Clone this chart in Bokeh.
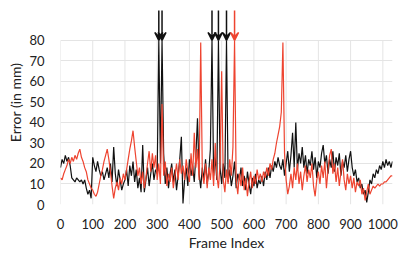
from bokeh.plotting import figure
from bokeh.models import Range1d, FixedTicker, Arrow, VeeHead
from bokeh.embed import file_html
from bokeh.resources import INLINE

# ---- data (frame index, error in mm); values > 80 are off-chart spikes ----
frames = list(range(0, 1031, 5))

black = [18, 22, 20, 24, 21, 23, 19,
         13, 12, 11, 13, 12, 11, 12, 10, 12,
         8, 5, 7, 3,
         23, 19, 16, 21, 17, 14, 16, 12, 15,
         18, 13, 20, 11, 28,
         15, 9, 17, 12, 7, 10,
         12, 17, 9, 19, 14, 21, 11, 17, 8, 13, 6,
         29, 6, 12, 18, 9, 15, 20, 12, 17, 15,
         100, 20, 100, 25,
         10, 18, 8, 15, 20, 11, 17, 7, 14, 22,
         33, 0.5, 12, 18, 9, 22, 14, 19, 11, 24, 42, 15, 8, 18, 12, 22, 10, 16, 27,
         100, 14, 23, 12, 100, 18, 10, 20, 13, 100, 11, 17, 9, 14, 21, 8, 15, 12, 18,
         9, 14, 7, 16, 10, 5, 13, 9, 15, 8, 12, 10, 14, 9, 16, 12, 18, 13, 19, 16,
         21, 18, 23, 19, 17, 22, 14, 20, 26, 16, 24, 35, 18, 40, 17, 25, 20, 28, 18,
         24, 15, 22, 19, 26, 17, 23, 13, 21, 18, 25, 29, 20, 24, 15, 22, 18, 26, 16,
         23, 19, 25, 14, 21, 18, 24, 16, 22, 26, 18, 14, 17, 11, 13, 8, 10, 5, 7, 1,
         6, 12, 10, 15, 13, 17, 15, 19, 17, 21, 18, 22, 19, 21, 18, 21]

red = [13, 12, 15, 17, 19, 22, 20, 23, 21, 24, 22, 25, 27, 23, 21, 18, 16, 12,
       10, 8, 7, 5, 4, 6, 10, 14, 17, 21, 24, 27, 22, 16, 9, 3, 8, 11, 7, 13,
       10, 15, 12, 17, 22, 27, 31, 36, 28, 21, 14, 18, 10, 16, 8, 13, 20, 26,
       16, 25, 18, 24, 12, 20, 10, 49, 14, 21, 9, 15, 11, 18, 8, 14, 20, 12,
       22, 15, 19, 12, 22, 16, 11, 25, 14, 35, 18, 27, 12, 79, 15, 10, 20, 8,
       18, 12, 22, 9, 30, 14, 8, 20, 65, 12, 6, 17, 10, 22, 14, 28, 100, 12,
       5, 15, 9, 18, 7, 13, 4, 11, 16, 8, 14, 10, 17, 12, 15, 11, 16, 13, 18,
       14, 20, 17, 22, 25, 30, 34, 38, 45, 79, 25, 12, 5, 9, 15, 8, 18, 12,
       20, 10, 16, 7, 14, 19, 11, 17, 13, 20, 9, 4, 12, 16, 10, 19, 13, 21,
       8, 17, 24, 27, 15, 20, 11, 18, 9, 16, 22, 12, 7, 15, 10, 14, 8, 13, 6,
       11, 9, 12, 5, 8, 2, 6, 10, 5, 7, 9, 8, 9, 10, 9, 10, 10, 11, 11, 12,
       13, 14, 14]

x_ticks = list(range(0, 1001, 100))
y_ticks = list(range(0, 81, 10))
y_max = 80

BLACK = "#111111"
RED = "#ee4430"
TEXT = "#222222"
GRID = "#e4e4e4"

p = figure(width=399, height=260, output_backend="svg", toolbar_location=None,
           x_range=Range1d(0, 1030), y_range=Range1d(0, 99.5),
           min_border_left=60, min_border_right=7, min_border_top=0,
           min_border_bottom=56)
p.outline_line_color = None
p.background_fill_color = "white"
p.border_fill_color = "white"

# grid: horizontal lines over the full width, vertical ones only up to 80
p.xgrid.visible = False
p.ygrid.ticker = FixedTicker(ticks=y_ticks)
p.ygrid.grid_line_color = GRID
p.segment(x0=x_ticks, y0=[0] * len(x_ticks), x1=x_ticks, y1=[y_max] * len(x_ticks),
          line_color=GRID, line_width=1)

def clip(vals):
    return [min(v, y_max) for v in vals]

p.line(frames, clip(black), line_color=BLACK, line_width=1.2)
p.line(frames, clip(red), line_color=RED, line_width=1.2)

# arrows marking off-chart spikes
for vals, col in ((black, BLACK), (red, RED)):
    for f, v in zip(frames, vals):
        if v > y_max:
            p.add_layout(Arrow(x_start=f, y_start=94.6, x_end=f, y_end=y_max,
                               line_color=col, line_width=1.5,
                               end=VeeHead(size=8, line_color=col, line_width=1.5,
                                           fill_color=col)))

for ax in (p.xaxis, p.yaxis):
    ax.axis_line_color = None
    ax.major_tick_line_color = None
    ax.minor_tick_line_color = None
    ax.major_tick_out = 0
    ax.major_tick_in = 0
    ax.major_label_text_font = "Lato"
    ax.major_label_text_font_size = "13px"
    ax.major_label_text_color = TEXT
    ax.axis_label_text_font = "Lato"
    ax.axis_label_text_font_size = "14px"
    ax.axis_label_text_font_style = "normal"
    ax.axis_label_text_color = TEXT
    ax.axis_label_standoff = 2

p.xaxis.ticker = FixedTicker(ticks=x_ticks)
p.yaxis.ticker = FixedTicker(ticks=y_ticks)
p.xaxis.major_label_standoff = 14
p.yaxis.major_label_standoff = 16
p.xaxis.axis_label = "Frame Index"
p.yaxis.axis_label = "Error (in mm)"

open("out.html", "w").write(file_html(p, INLINE))
